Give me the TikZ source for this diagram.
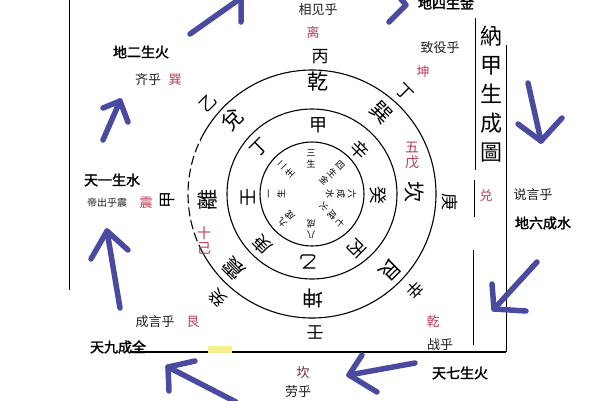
\documentclass[tikz,border=0pt]{standalone}
\usepackage{fontspec}
\newfontfamily\cjk[AutoFakeBold=2]{Noto Sans CJK SC}
\newfontfamily\cjktc{Noto Sans CJK TC}
\usetikzlibrary{calc}
\definecolor{arrowblue}{RGB}{74,74,160}
\definecolor{sealred}{RGB}{190,60,85}
\definecolor{ink}{RGB}{30,30,30}
\definecolor{hilite}{RGB}{245,238,140}
\tikzset{
 lbl/.style={font=\cjk\fontsize{13}{13}\selectfont, text=ink, inner sep=0pt},
 tiny/.style={font=\cjk\fontsize{10}{10}\selectfont, text=ink, inner sep=0pt},
 boldlbl/.style={font=\cjk\bfseries\fontsize{14}{14}\selectfont, text=black, inner sep=0pt},
 redc/.style={font=\cjk\fontsize{13}{13}\selectfont, text=sealred, inner sep=0pt},
 redv/.style={font=\cjk\fontsize{14}{15}\selectfont, text=sealred, inner sep=0pt, align=center},
 glyph/.style={font=\cjktc\fontsize{18}{18}\selectfont, text=black, inner sep=0pt},
 bigglyph/.style={font=\cjktc\fontsize{21}{21}\selectfont, text=black, inner sep=0pt},
 outglyph/.style={font=\cjktc\fontsize{17}{17}\selectfont, text=black, inner sep=0pt},
 innerch/.style={font=\cjktc\fontsize{9}{9}\selectfont, text=black, inner sep=0pt},
 titlev/.style={font=\cjktc\fontsize{22}{29}\selectfont, text=black, inner sep=0pt, align=center},
 ring/.style={line width=1.1pt, black},
 frameline/.style={line width=1pt, black},
 arr/.style={line width=5.5pt, arrowblue, line cap=round, line join=round}
}
\begin{document}
\begin{tikzpicture}[x=1pt,y=-1pt]
\useasboundingbox[fill=white] (0,0) rectangle (600,400);

% ---- frame lines ----
\coordinate (lt) at (69,0);   \coordinate (lb) at (69,290);
\coordinate (bl) at (130,352); \coordinate (br) at (506,352);
\coordinate (rt) at (506,45);
\coordinate (i1a) at (475,18);  \coordinate (i1b) at (475,170);
\coordinate (i2a) at (474,180); \coordinate (i2b) at (474,217);
\coordinate (i3a) at (473,250); \coordinate (i3b) at (473,345);
\draw[frameline] (lt) -- (lb);
\draw[line width=1.6pt] (bl) -- (br);
\draw[frameline] (rt) -- (br);
\draw[frameline] (i1a) -- (i1b);
\draw[frameline] (i2a) -- (i2b);
\draw[frameline] (i3a) -- (i3b);
\fill[hilite] (208,346) rectangle (232,353);

% ---- circles ----
\coordinate (C) at (312,194);
\draw[ring] (C) circle[radius=52pt];
\draw[ring] (C) circle[radius=85pt];
\begin{scope}
\clip (0,0) rectangle (200,400);
\draw[ring, dash pattern=on 9pt off 4pt] (C) circle[radius=124pt];
\end{scope}
\begin{scope}
\clip (200,0) rectangle (600,400);
\draw[ring] (C) circle[radius=124pt];
\end{scope}

% ---- inner disc: radial texts, one node per character ----
\foreach \ang/\txt in {0/{三,生},45/{四,生,金},90/{六,成,水},135/{七,成,火},180/{八,成},-135/{九,成},-90/{一,生},-45/{二,生}}{
  \foreach \ch [count=\i] in \txt {
    \pgfmathsetmacro{\rr}{41-(\i-1)*11}
    \node[innerch, rotate={0-(\ang)}] (in\ang-\i) at ({311+\rr*sin(\ang)},{194-\rr*cos(\ang)}) {\ch};
  }
}

% ---- ring 2 ----
\node[glyph] (r2a) at (318,125) {甲};
\node[glyph, rotate=-45] (r2b) at (360,150) {辛};
\node[glyph, rotate=-90] (r2c) at (378,195) {癸};
\node[glyph, rotate=-135] (r2d) at (357,248) {丙};
\node[glyph, rotate=180] (r2e) at (308,262) {乙};
\node[glyph, rotate=135] (r2f) at (262,245) {庚};
\node[glyph, rotate=90] (r2g) at (248,197) {壬};
\node[glyph, rotate=45] (r2h) at (260,148) {丁};

% ---- ring 3 ----
\node[bigglyph] (r3a) at (318,82) {乾};
\node[bigglyph, rotate=-45] (r3b) at (381,113) {巽};
\node[bigglyph, rotate=-90] (r3c) at (414,192) {坎};
\node[bigglyph, rotate=-135] (r3d) at (390,270) {艮};
\node[bigglyph, rotate=180] (r3e) at (313,298) {坤};
\node[bigglyph, rotate=135] (r3f) at (234,268) {震};
\node[bigglyph, rotate=90] (r3g) at (207,200) {離};
\node[bigglyph, rotate=45] (r3h) at (232,120) {兌};

% ---- outer ring ----
\node[outglyph] (o1) at (320,57) {丙};
\node[outglyph, rotate=-45] (o2) at (405,92) {丁};
\node[outglyph, rotate=-90] (o3) at (450,202) {庚};
\node[outglyph, rotate=-135] (o4) at (415,290) {辛};
\node[outglyph, rotate=180] (o5) at (315,332) {壬};
\node[outglyph, rotate=135] (o6) at (218,298) {癸};
\node[outglyph, rotate=90] (o7) at (168,200) {甲};
\node[outglyph, rotate=45] (o8) at (208,103) {乙};
\node[redv] (wu) at (412,155) {五\\戊};
\node[redv] (ji) at (204,241) {十\\己};

% ---- title ----
\node[titlev] (title) at (491,94) {納\\甲\\生\\成\\圖};
\node[redc] (dui) at (486,196) {兑};

% ---- labels ----
\node[boldlbl] (t4) at (446,3) {地四生金};
\node[lbl] (xj) at (318,10) {相见乎};
\node[redc] (li) at (313,33) {离};
\node[lbl] (zy) at (440,48) {致役乎};
\node[redc] (kun) at (423,72) {坤};
\node[boldlbl] (t2) at (141,52) {地二生火};
\node[lbl] (qh) at (148,80) {齐乎};
\node[redc] (xun) at (175,80) {巽};
\node[boldlbl] (t1) at (112,180) {天一生水};
\node[tiny] (dc) at (107,203) {帝出乎震};
\node[redc] (zhen) at (146,203) {震};
\node[lbl] (cy) at (155,322) {成言乎};
\node[redc] (gen) at (193,322) {艮};
\node[boldlbl] (t9) at (118,347) {天九成全};
\node[lbl, text=sealred!60!black] (kan) at (303,373) {坎};
\node[lbl] (lh) at (298,392) {劳乎};
\node[boldlbl] (t7) at (460,373) {天七生火};
\node[redc] (qian) at (433,322) {乾};
\node[lbl] (zh) at (440,345) {战乎};
\node[lbl] (sy) at (533,195) {说言乎};
\node[boldlbl] (t6) at (543,223) {地六成水};

% ---- arrows ----
\coordinate (a1s) at (190,34);  \coordinate (a1t) at (241,-2);
\coordinate (a1l) at (241,22);  \coordinate (a1r) at (215,-5);
\draw[arr] (a1s) -- (a1t); \draw[arr] (a1l) -- (a1t) -- (a1r);

\coordinate (a2t) at (406,5); \coordinate (a2l) at (389,22); \coordinate (a2r) at (395,-8);
\draw[arr] (a2l) -- (a2t) -- (a2r);

\coordinate (a3s) at (103,140); \coordinate (a3t) at (120,101);
\coordinate (a3l) at (103,108); \coordinate (a3r) at (128,122);
\draw[arr] (a3s) -- (a3t); \draw[arr] (a3l) -- (a3t) -- (a3r);

\coordinate (a4s) at (120,308); \coordinate (a4t) at (107,231);
\coordinate (a4l) at (91,259);  \coordinate (a4r) at (128,250);
\draw[arr] (a4s) -- (a4t); \draw[arr] (a4l) -- (a4t) -- (a4r);

\coordinate (a5s) at (236,402); \coordinate (a5t) at (168,367);
\coordinate (a5l) at (195,361); \coordinate (a5r) at (169,391);
\draw[arr] (a5s) -- (a5t); \draw[arr] (a5l) -- (a5t) -- (a5r);

\coordinate (a6s) at (415,363); \coordinate (a6t) at (349,375);
\coordinate (a6l) at (362,355); \coordinate (a6r) at (377,392);
\draw[arr] (a6s) -- (a6t); \draw[arr] (a6l) -- (a6t) -- (a6r);

\coordinate (a7s) at (537,262); \coordinate (a7t) at (494,309);
\coordinate (a7l) at (492,284); \coordinate (a7r) at (526,311);
\draw[arr] (a7s) -- (a7t); \draw[arr] (a7l) -- (a7t) -- (a7r);

\coordinate (a8s) at (528,83);  \coordinate (a8t) at (541,141);
\coordinate (a8l) at (518,124); \coordinate (a8r) at (562,118);
\draw[arr] (a8s) -- (a8t); \draw[arr] (a8l) -- (a8t) -- (a8r);
\end{tikzpicture}
\end{document}
